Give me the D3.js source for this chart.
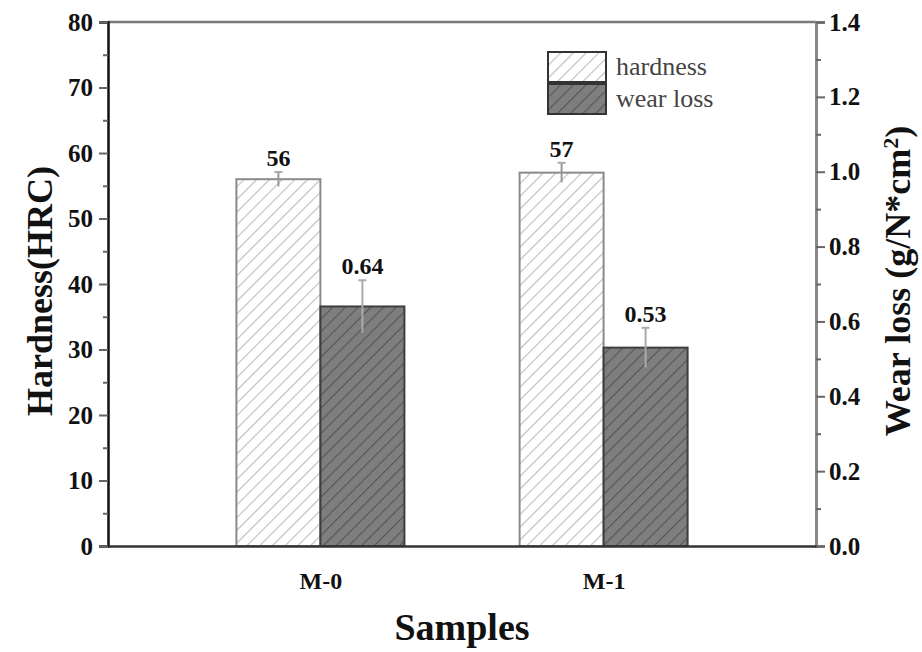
<!DOCTYPE html>
<meta charset="utf-8">
<style>
body { margin: 0; background: #fff; }
.tick text { font-family: "Liberation Serif", "DejaVu Serif", serif; font-weight: bold; font-size: 25px; fill: #111; }
.title { font-family: "Liberation Serif", "DejaVu Serif", serif; font-weight: bold; font-size: 36px; fill: #111; }
.vlabel { font-family: "Liberation Serif", "DejaVu Serif", serif; font-weight: bold; font-size: 24px; fill: #111; }
.legend text { font-family: "Liberation Serif", "DejaVu Serif", serif; font-weight: normal; font-size: 26px; fill: #444; }
</style>
<svg width="922" height="652"></svg>
<script src="https://cdn.jsdelivr.net/npm/d3@7"></script>
<script>
// data
var samples = ["M-0", "M-1"];
var hardness = [56, 57];
var hardnessErr = [1.1, 1.5];
var wearLoss = [0.64, 0.53];
var wearErr = [0.07, 0.053];
var hardLabels = ["56", "57"];
var wearLabels = ["0.64", "0.53"];
var leftTicks = [0, 10, 20, 30, 40, 50, 60, 70, 80];
var rightTicks = [0.0, 0.2, 0.4, 0.6, 0.8, 1.0, 1.2, 1.4];

var svg = d3.select("svg"),
    margin = {top: 22, right: 106, bottom: 106, left: 108},
    width = 922 - margin.left - margin.right,
    height = 652 - margin.top - margin.bottom,
    g = svg.append("g").attr("transform", "translate(" + margin.left + "," + margin.top + ")");

var x = d3.scalePoint().domain(samples).range([0, width]).padding(0.75);
var x1 = d3.scaleBand().domain(["hardness", "wear"]).range([-84, 84]);
var yL = d3.scaleLinear().domain([0, 80]).range([height, 0]);
var yR = d3.scaleLinear().domain([0, 1.4]).range([height, 0]);

// hatch patterns
var defs = svg.append("defs");
function hatch(id, bg, fg) {
  var p = defs.append("pattern").attr("id", id)
    .attr("patternUnits", "userSpaceOnUse")
    .attr("width", 9).attr("height", 9)
    .attr("patternTransform", "rotate(45)");
  p.append("rect").attr("width", 9).attr("height", 9).attr("fill", bg);
  p.append("line").attr("x1", 0).attr("y1", 0).attr("x2", 0).attr("y2", 9)
    .attr("stroke", fg).attr("stroke-width", 2.2);
}
hatch("hatchLight", "#ffffff", "#bdbdbd");
hatch("hatchDark", "#7e7e7e", "#555555");

// top frame line
g.append("line").attr("x1", 0).attr("x2", width).attr("y1", 0).attr("y2", 0)
  .attr("stroke", "#7a7a7a").attr("stroke-width", 2.5);

// bars
var rows = samples.map(function(s, i) {
  return [
    {s: s, key: "hardness", y: yL(hardness[i]), top: yL(hardness[i] + hardnessErr[i]), bot: yL(hardness[i] - hardnessErr[i]), label: hardLabels[i]},
    {s: s, key: "wear", y: yR(wearLoss[i]), top: yR(wearLoss[i] + wearErr[i]), bot: yR(wearLoss[i] - wearErr[i]), label: wearLabels[i]}
  ];
}).flat();

g.selectAll("rect.bar").data(rows).enter().append("rect")
  .attr("class", "bar")
  .attr("x", d => x(d.s) + x1(d.key))
  .attr("y", d => d.y)
  .attr("width", x1.bandwidth())
  .attr("height", d => height - d.y)
  .attr("fill", d => d.key == "hardness" ? "url(#hatchLight)" : "url(#hatchDark)")
  .attr("stroke", d => d.key == "hardness" ? "#8a8a8a" : "#3e3e3e")
  .attr("stroke-width", 2);

// error bars
var err = g.selectAll("g.err").data(rows).enter().append("g").attr("class", "err")
  .attr("transform", d => "translate(" + (x(d.s) + x1(d.key) + x1.bandwidth() / 2) + ",0)");
err.append("line").attr("y1", d => d.top).attr("y2", d => d.bot)
  .attr("stroke", d => d.key == "hardness" ? "#999" : "#aaa").attr("stroke-width", 2);
err.append("line").attr("x1", -4).attr("x2", 4).attr("y1", d => d.top).attr("y2", d => d.top)
  .attr("stroke", "#aaa").attr("stroke-width", 2);
err.append("text").attr("class", "vlabel")
  .attr("y", d => d.top - 6).attr("text-anchor", "middle")
  .text(d => d.label);

// axes
var left = g.append("g").call(d3.axisLeft(yL).tickValues(leftTicks).tickSize(9).tickPadding(6));
left.select(".domain").attr("stroke", "#111").attr("stroke-width", 2.5);
left.selectAll(".tick line").attr("stroke", "#666").attr("stroke-width", 2);
g.append("g").call(d3.axisLeft(yL).tickValues(d3.range(5, 80, 10)).tickSize(5).tickFormat(""))
  .call(a => a.select(".domain").remove())
  .selectAll(".tick line").attr("stroke", "#666").attr("stroke-width", 2);

var right = g.append("g").attr("transform", "translate(" + width + ",0)")
  .call(d3.axisRight(yR).tickValues(rightTicks).tickSize(9).tickPadding(4).tickFormat(d3.format(".1f")));
right.select(".domain").attr("stroke", "#888").attr("stroke-width", 3);
right.selectAll(".tick line").attr("stroke", "#666").attr("stroke-width", 2);
g.append("g").attr("transform", "translate(" + width + ",0)")
  .call(d3.axisRight(yR).tickValues(d3.range(0.1, 1.4, 0.2)).tickSize(5).tickFormat(""))
  .call(a => a.select(".domain").remove())
  .selectAll(".tick line").attr("stroke", "#666").attr("stroke-width", 2);

var bottom = g.append("g").attr("transform", "translate(0," + height + ")")
  .call(d3.axisBottom(x).tickSize(0).tickPadding(26));
bottom.select(".domain").attr("stroke", "#333").attr("stroke-width", 2.5);
bottom.selectAll(".tick text").style("font-size", "24px");

// axis titles
svg.append("text").attr("class", "title")
  .attr("transform", "translate(52,291) rotate(-90)")
  .attr("text-anchor", "middle").text("Hardness(HRC)");
svg.append("text").attr("class", "title")
  .attr("transform", "translate(910,281) rotate(-90)")
  .attr("text-anchor", "middle")
  .text("Wear loss (g/N*cm")
  .append("tspan").attr("dy", -12).style("font-size", "22px").text("2")
  .select(function() { return this.parentNode; })
  .append("tspan").attr("dy", 12).text(")");
svg.append("text").attr("class", "title")
  .attr("x", margin.left + width / 2).attr("y", 640)
  .attr("text-anchor", "middle").style("font-size", "38px").text("Samples");

// legend
var legend = svg.append("g").attr("class", "legend").attr("transform", "translate(548,52)");
var legItems = [{name: "hardness", fill: "url(#hatchLight)"}, {name: "wear loss", fill: "url(#hatchDark)"}];
var li = legend.selectAll("g").data(legItems).enter().append("g")
  .attr("transform", (d, i) => "translate(0," + i * 32 + ")");
li.append("rect").attr("width", 58).attr("height", 30)
  .attr("fill", d => d.fill).attr("stroke", "#333").attr("stroke-width", 2);
li.append("text").attr("x", 68).attr("y", 23).text(d => d.name);
</script>
